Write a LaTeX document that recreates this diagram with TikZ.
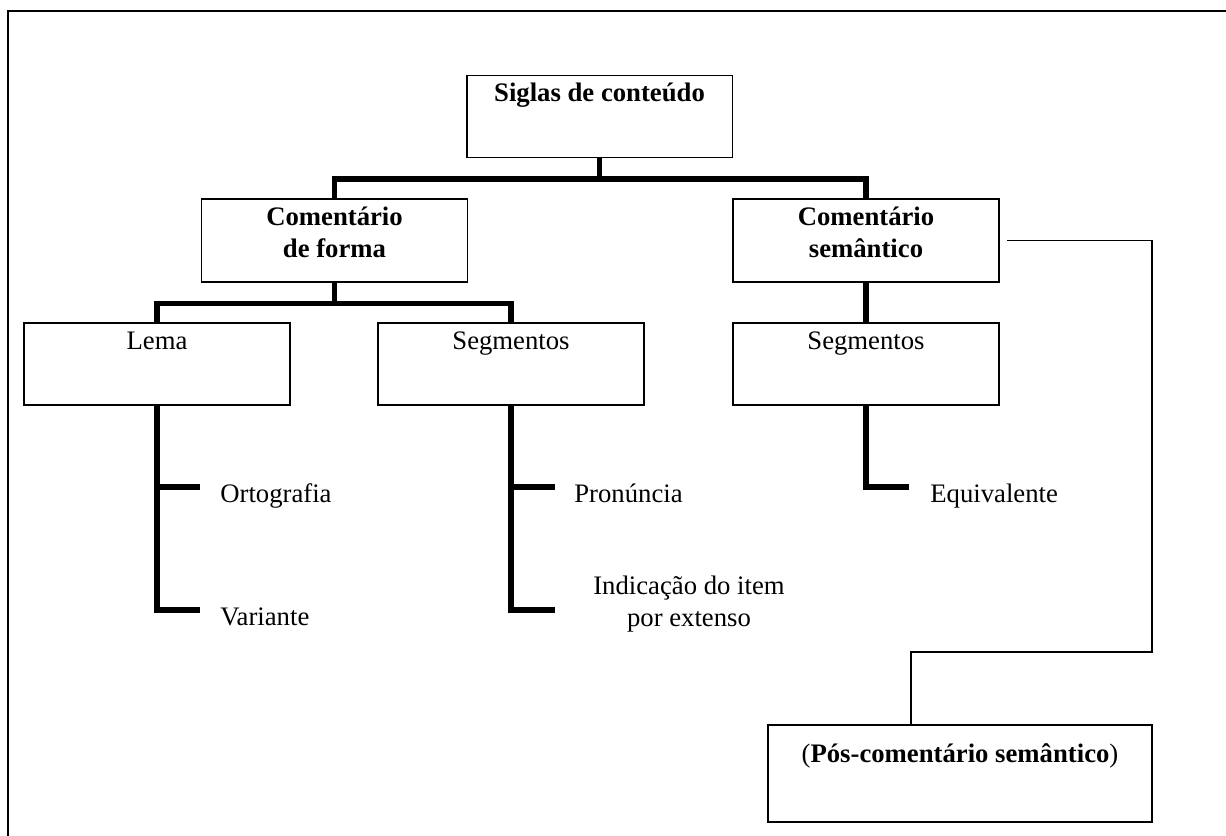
\documentclass[tikz,border=0pt]{standalone}
\usepackage{fontspec}
\setmainfont{Liberation Serif}

\begin{document}
\begin{tikzpicture}[x=0.02cm,y=-0.02cm,
    font=\fontsize{15.2pt}{18pt}\selectfont,
    box/.style={draw,line width=1.1pt,inner sep=0pt,minimum width=5.32cm,
      align=center,text height=0.52cm,text depth=1.12cm},
    twoline/.style={text height=1.16cm,text depth=0.5cm},
    tree/.style={line width=3pt},
    link/.style={line width=0.85pt},
    item/.style={anchor=base west,inner sep=0pt}]
  \useasboundingbox (0,0) rectangle (1226,835);
  % frame, cut off at the right and at the bottom
  \draw[line width=1.2pt] (1240,11) -- (8,11) -- (8,850);

  % boxes
  \node[box] (sig) at (599.5,116.5) {\textbf{Siglas de conteúdo}};
  \node[box,twoline] (cf) at (334.5,240.5) {\textbf{Comentário}\\\textbf{de forma}};
  \node[box,twoline] (cs) at (866,240.5) {\textbf{Comentário}\\\textbf{semântico}};
  \node[box] (lema) at (157,364) {Lema};
  \node[box] (segl) at (511,364) {Segmentos};
  \node[box] (segr) at (866,364) {Segmentos};
  \node[box,minimum width=7.68cm,text height=0.74cm,text depth=1.2cm] (pos)
    at (960,773.5) {(\textbf{Pós-comentário semântico})};

  % items
  \node[item] (ort) at (220,502) {Ortografia};
  \node[item] (var) at (220,625) {Variante};
  \node[item] (pro) at (574,502) {Pronúncia};
  \node[item] (equ) at (930,502) {Equivalente};
  \node[align=center,anchor=base,inner sep=0pt] (ind) at (689,626)
    {Indicação do item\\por extenso};
  \foreach \tip/\x/\y in {ort/200/487, var/200/610, pro/555/487,
      ind/555/610, equ/909/487}
    \coordinate (\tip-t) at (\x,\y);

  % tree
  \draw[tree] (sig.south) -- ++(0,20.5) coordinate (j1);
  \draw[tree] (cf.north) |- (j1) -| (cs.north);
  \draw[tree] (cf.south) -- ++(0,20.5) coordinate (j2);
  \draw[tree] (lema.north) |- (j2) -| (segl.north);
  \draw[tree] (cs) -- (segr);
  \draw[tree] (lema.south) |- (var-t);
  \draw[tree] (lema.south |- ort-t) -- (ort-t);
  \draw[tree] (segl.south) |- (ind-t);
  \draw[tree] (segl.south |- pro-t) -- (pro-t);
  \draw[tree] (segr.south) |- (equ-t);

  % thin link to the post-comment
  \coordinate (k) at (1152,652);
  \draw[link] ([shift={(7,0)}]cs.east) -| (k) -| ([shift={(-49,0)}]pos.north);
\end{tikzpicture}
\end{document}
